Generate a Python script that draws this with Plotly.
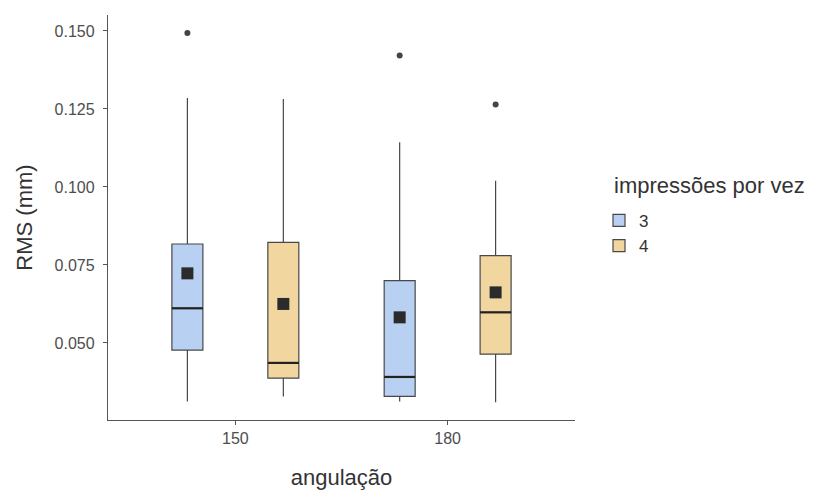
import plotly.graph_objects as go

# ---- data ----
angles = ["150", "180"]
groups = ["3", "4"]
fills = {"3": "#B8D0F2", "4": "#F2D6A0"}

q1 = {"3": [0.0477, 0.0329], "4": [0.0387, 0.0464]}
median = {"3": [0.0611, 0.0391], "4": [0.0436, 0.0598]}
q3 = {"3": [0.0817, 0.0700], "4": [0.0822, 0.0780]}
lower = {"3": [0.0312, 0.0312], "4": [0.0328, 0.0310]}
upper = {"3": [0.1285, 0.1143], "4": [0.1282, 0.1020]}
means = {"3": [0.0723, 0.0582], "4": [0.0625, 0.0662]}
outliers = {"3": [[0.1493], [0.1421]], "4": [[], [0.1264]]}

dodge = {"3": -0.226, "4": 0.226}
box_w = 0.146

fig = go.Figure()
for g in groups:
    xs = [i + 1 + dodge[g] for i in range(len(angles))]
    fig.add_trace(go.Box(
        x=xs, q1=q1[g], median=median[g], q3=q3[g],
        lowerfence=lower[g], upperfence=upper[g],
        width=box_w, whiskerwidth=0,
        fillcolor=fills[g], line=dict(color="#484848", width=1.2),
        name=g, boxpoints=False, hoverinfo="skip",
    ))
for g in groups:
    # thicker median segments (as in ggplot)
    mx, my = [], []
    for i in range(len(angles)):
        xc = i + 1 + dodge[g]
        mx += [xc - box_w / 2, xc + box_w / 2, None]
        my += [median[g][i], median[g][i], None]
    fig.add_trace(go.Scatter(x=mx, y=my, mode="lines", showlegend=False, hoverinfo="skip",
                             line=dict(color="#222222", width=2.2)))
    ox, oy = [], []
    for i, vals in enumerate(outliers[g]):
        for v in vals:
            ox.append(i + 1 + dodge[g]); oy.append(v)
    fig.add_trace(go.Scatter(x=ox, y=oy, mode="markers", showlegend=False,
                             marker=dict(color="#444444", size=6)))
    fig.add_trace(go.Scatter(x=[i + 1 + dodge[g] for i in range(len(angles))], y=means[g],
                             mode="markers", showlegend=False,
                             marker=dict(color="#2b2b2b", size=12, symbol="square")))

axis_common = dict(showline=True, linecolor="#555555", linewidth=1.3, ticks="outside",
                   ticklen=4, tickcolor="#555555", showgrid=False, zeroline=False,
                   tickfont=dict(size=16, color="#4D4D4D"))
fig.update_layout(
    width=819, height=491,
    margin=dict(l=100, r=252, t=7, b=79),
    plot_bgcolor="white", paper_bgcolor="white",
    font=dict(family="Liberation Sans, Arial, sans-serif", color="#333333"),
    xaxis=dict(range=[0.4, 2.6], tickvals=[1, 2], ticktext=angles,
               title=dict(text="angulação", font=dict(size=22, color="#333333"), standoff=23),
               **axis_common),
    yaxis=dict(range=[0.0253, 0.1551], tickvals=[0.05, 0.075, 0.1, 0.125, 0.15],
               tickformat=".3f", ticklabelstandoff=5,
               title=dict(text="RMS (mm)", font=dict(size=22, color="#333333"), standoff=15),
               **axis_common),
    legend=dict(x=1.0514, y=0.536, xanchor="left", yanchor="top",
                font=dict(size=17, color="#333333"), tracegroupgap=0,
                itemwidth=30),
    annotations=[dict(text="impressões por vez", xref="paper", yref="paper",
                      x=1.079, y=0.578, xanchor="left", yanchor="middle", showarrow=False,
                      font=dict(size=22, color="#333333"))],
    showlegend=True,
)
fig.write_html("out.html")
